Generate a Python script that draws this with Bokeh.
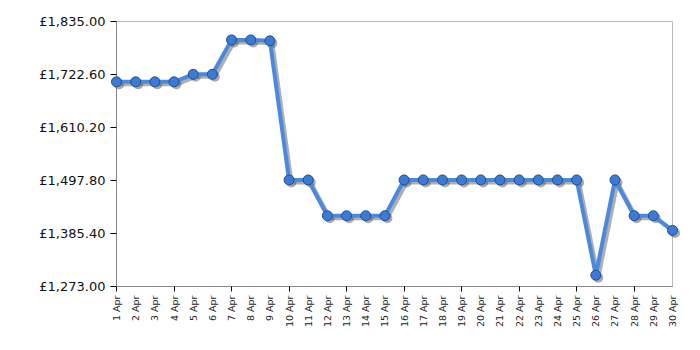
from bokeh.plotting import figure
from bokeh.models import (FixedTicker, CustomJSTickFormatter, Range1d, LinearAxis)
from bokeh.embed import file_html
from bokeh.resources import INLINE
import math

days = list(range(1, 31))
day_labels = [f"{d} Apr" for d in days]
prices = [1707, 1707, 1707, 1707, 1723, 1723, 1796, 1796, 1794, 1499,
          1499, 1423, 1423, 1423, 1423, 1499, 1499, 1499, 1499, 1499,
          1499, 1499, 1499, 1499, 1499, 1297, 1499, 1423, 1423, 1392]
y_ticks = [1273.0, 1385.4, 1497.8, 1610.2, 1722.6, 1835.0]
x_grid_days = [1, 4, 7, 10, 13, 16, 19, 22, 25, 28]

x0, x1 = 1, 30
y0, y1 = 1273.0, 1835.0
FW, FH = 556, 265

p = figure(frame_width=FW, frame_height=FH, output_backend="svg", toolbar_location=None,
           x_range=Range1d(x0, x1), y_range=Range1d(y0, y1),
           min_border_left=116, min_border_right=28, min_border_top=21, min_border_bottom=64,
           x_axis_type=None, y_axis_type=None)
p.outline_line_color = "#bbbbbb"
p.outline_line_width = 1
p.background_fill_color = "white"
p.border_fill_color = "white"

# shadow ranges (pixel offset: right and down)
dx = 2.5 * (x1 - x0) / FW
dy = 2.5 * (y1 - y0) / FH
p.extra_x_ranges = {"sx": Range1d(x0 - dx, x1 - dx)}
p.extra_y_ranges = {"sy": Range1d(y0 + dy, y1 + dy)}

# axes
xaxis = LinearAxis(ticker=FixedTicker(ticks=days, minor_ticks=x_grid_days))
xaxis.major_label_overrides = {d: lab for d, lab in zip(days, day_labels)}
xaxis.major_label_orientation = math.pi / 2
xaxis.major_label_text_font = "DejaVu Sans"
xaxis.major_label_text_font_size = "9.5px"
xaxis.major_label_text_color = "#222222"
xaxis.major_tick_line_color = None
xaxis.major_tick_out = 5
xaxis.major_label_standoff = 4
xaxis.minor_tick_line_color = "black"
xaxis.minor_tick_in = 0
xaxis.minor_tick_out = 5
xaxis.axis_line_color = "#888888"
p.add_layout(xaxis, "below")

yaxis = LinearAxis(ticker=FixedTicker(ticks=y_ticks, minor_ticks=[]))
yaxis.formatter = CustomJSTickFormatter(code="""
return '\u00a3' + tick.toLocaleString('en-GB', {minimumFractionDigits: 2, maximumFractionDigits: 2});
""")
yaxis.major_label_text_font = "DejaVu Sans"
yaxis.major_label_text_font_size = "13px"
yaxis.major_label_text_color = "#111111"
yaxis.major_tick_line_color = "black"
yaxis.major_tick_in = 0
yaxis.major_tick_out = 6
yaxis.major_label_standoff = 5
yaxis.minor_tick_line_color = None
yaxis.axis_line_color = "#888888"
p.add_layout(yaxis, "left")

p.xgrid.ticker = FixedTicker(ticks=x_grid_days)
p.ygrid.ticker = FixedTicker(ticks=y_ticks)
p.xgrid.grid_line_color = "#c8c8c8"
p.ygrid.grid_line_color = "#c8c8c8"
p.grid.grid_line_width = 1

# shadow
p.line(days, prices, line_width=4, line_color="#7a7a7a", line_alpha=0.6,
       x_range_name="sx", y_range_name="sy", line_join="round", level="overlay")
p.scatter(days, prices, size=10, fill_color="#555555", fill_alpha=0.5, line_color=None,
          x_range_name="sx", y_range_name="sy", level="overlay")
# main line
p.line(days, prices, line_width=4, line_color="#4a8ade", line_join="round", level="overlay")
p.scatter(days, prices, size=10, fill_color="#3c7bd4", line_color="#1f4e96", line_width=1,
          level="overlay")

open("out.html", "w").write(file_html(p, INLINE))
